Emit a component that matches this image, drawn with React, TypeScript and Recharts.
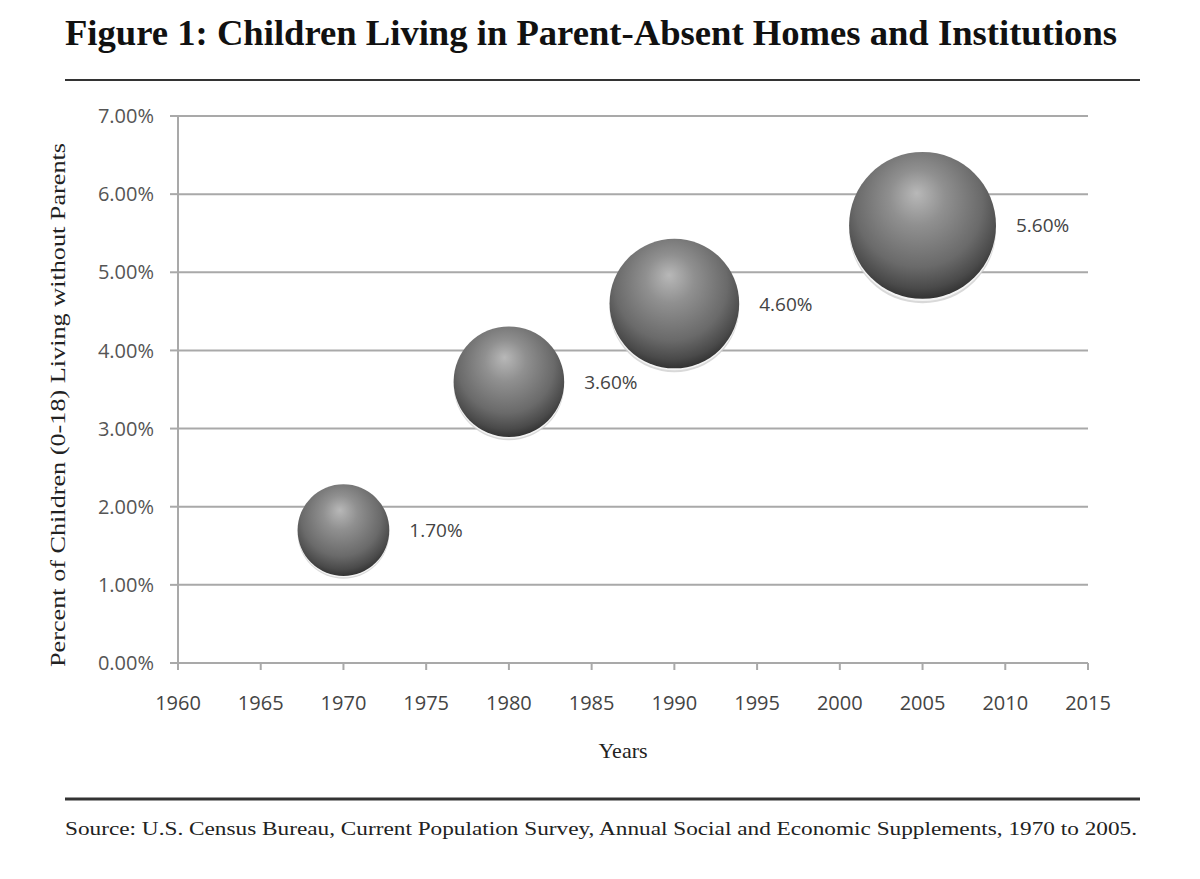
import React from 'react';
import { ScatterChart, Scatter, XAxis, YAxis, ZAxis, CartesianGrid } from 'recharts';

const years = [1970, 1980, 1990, 2005];
const percentValues = [1.7, 3.6, 4.6, 5.6];
// relative bubble areas
const bubbleSizes = [2.2, 3.2, 4.4, 5.65];
const xTicks = [1960, 1965, 1970, 1975, 1980, 1985, 1990, 1995, 2000, 2005, 2010, 2015];
const yTicks = [0, 1, 2, 3, 4, 5, 6, 7];

const data = years.map((year, i) => ({ year, pct: percentValues[i], z: bubbleSizes[i] }));

const gridColor = '#a9a9a9';
const sansFont = '"Open Sans", "Liberation Sans", sans-serif';
const serifFont = '"Liberation Serif", "DejaVu Serif", serif';

function Sphere(props: any) {
  const { cx, cy, payload } = props;
  const r = props.width ? props.width / 2 : Math.sqrt((props.size || 0) / Math.PI);
  return (
    <g>
      <circle cx={cx} cy={cy + r * 0.06} r={r} fill="#cfcfcf" opacity={0.8} />
      <circle cx={cx} cy={cy + r * 0.03} r={r} fill="#f4f4f4" />
      <circle cx={cx} cy={cy} r={r} fill="url(#sphereGrad)" />
      <text
        x={cx + r + 20}
        y={cy + 7}
        fontFamily={sansFont}
        fontSize={19}
        fill="#444"
      >
        {payload.pct.toFixed(2)}%
      </text>
    </g>
  );
}

export default function App() {
  return (
    <div style={{ position: 'absolute', left: 0, top: 0, width: 1200, height: 879, background: '#fff' }}>
      <ScatterChart
        width={1200}
        height={879}
        margin={{ top: 116, right: 112, bottom: 176, left: 98 }}
      >
        <defs>
          <radialGradient id="sphereGrad" cx="48%" cy="38%" r="62%" fx="46%" fy="28%">
            <stop offset="0%" stopColor="#b8b8b8" />
            <stop offset="30%" stopColor="#909090" />
            <stop offset="70%" stopColor="#6a6a6a" />
            <stop offset="90%" stopColor="#4a4a4a" />
            <stop offset="100%" stopColor="#333333" />
          </radialGradient>
        </defs>
        <CartesianGrid vertical={false} stroke={gridColor} strokeWidth={2} />
        <XAxis
          type="number"
          dataKey="year"
          domain={[1960, 2015]}
          ticks={xTicks}
          interval={0}
          height={40}
          tickSize={7}
          tickMargin={26}
          axisLine={{ stroke: gridColor, strokeWidth: 2 }}
          tickLine={{ stroke: gridColor, strokeWidth: 2 }}
          tick={{ fill: '#444', fontSize: 20, fontFamily: sansFont }}
        />
        <YAxis
          type="number"
          dataKey="pct"
          domain={[0, 7]}
          ticks={yTicks}
          interval={0}
          width={80}
          tickSize={8}
          tickMargin={16}
          axisLine={{ stroke: gridColor, strokeWidth: 2 }}
          tickLine={{ stroke: gridColor, strokeWidth: 2 }}
          tick={{ fill: '#555', fontSize: 20, fontFamily: sansFont }}
          tickFormatter={(v: number) => `${v.toFixed(2)}%`}
        />
        <ZAxis type="number" dataKey="z" domain={[0, 10]} range={[0, 30000]} />
        <Scatter data={data} shape={Sphere} isAnimationActive={false} />
      </ScatterChart>
      <svg
        width={1200}
        height={879}
        style={{ position: 'absolute', left: 0, top: 0, pointerEvents: 'none' }}
      >
        <text
          x={65}
          y={45}
          fontFamily={serifFont}
          fontWeight="bold"
          fontSize={36}
          fill="#111"
          textLength={1052}
          lengthAdjust="spacingAndGlyphs"
        >
          Figure 1: Children Living in Parent-Absent Homes and Institutions
        </text>
        <line x1={65} x2={1140} y1={80} y2={80} stroke="#333" strokeWidth={2} />
        <text
          transform="translate(65, 405) rotate(-90)"
          textAnchor="middle"
          fontFamily={serifFont}
          fontSize={21}
          fill="#222"
          textLength={524}
          lengthAdjust="spacingAndGlyphs"
        >
          Percent of Children (0-18) Living without Parents
        </text>
        <text x={623} y={758} textAnchor="middle" fontFamily={serifFont} fontSize={22} fill="#222">
          Years
        </text>
        <line x1={65} x2={1140} y1={799} y2={799} stroke="#333" strokeWidth={3} />
        <text
          x={65}
          y={835}
          fontFamily={serifFont}
          fontSize={19}
          fill="#222"
          textLength={1072}
          lengthAdjust="spacingAndGlyphs"
        >
          Source: U.S. Census Bureau, Current Population Survey, Annual Social and Economic Supplements, 1970 to 2005.
        </text>
      </svg>
    </div>
  );
}
